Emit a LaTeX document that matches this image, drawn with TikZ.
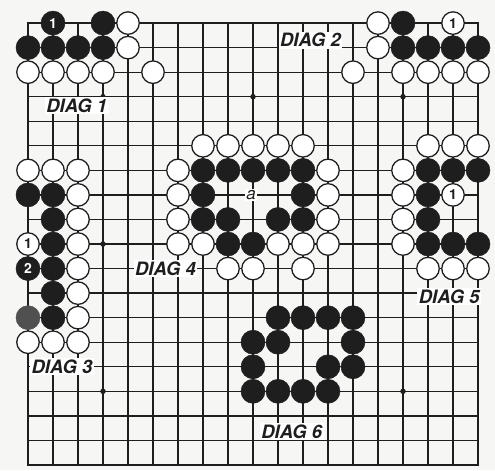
\documentclass[tikz,border=0pt]{standalone}
\usepackage{fontspec}
\setsansfont{TeX Gyre Heros}
\definecolor{paper}{HTML}{F6F6F4}
\definecolor{ink}{HTML}{1E1E1E}
\begin{document}
\begin{tikzpicture}[
  x=25bp, y=-24.55bp,
  every node/.style={font=\sffamily},
  gridline/.style={line width=1.3pt,draw=ink},
  edgeline/.style={line width=1.9pt,draw=ink},
  hoshi/.style={circle,fill=ink,inner sep=0pt,minimum size=5.5bp},
  blackstone/.style={circle,fill=ink,draw=ink,line width=0.5pt,minimum size=24bp,inner sep=0pt,
    text=white,font=\sffamily\bfseries\fontsize{14}{14}\selectfont},
  whitestone/.style={circle,fill=white,draw=ink,line width=1.3pt,minimum size=22.5bp,inner sep=0pt,
    text=ink,font=\sffamily\bfseries\fontsize{14}{14}\selectfont},
  diagtitle/.style={fill=white,inner sep=1.5pt,text=ink,
    font=\sffamily\bfseries\itshape\fontsize{18.5}{18.5}\selectfont},
  pointmark/.style={fill=white,inner sep=1pt,text=ink,font=\sffamily\itshape\fontsize{17}{17}\selectfont}
]
\useasboundingbox[fill=paper] (-1.12,-0.94) rectangle (18.68,18.21);

% board
\foreach \i in {0,...,18} {
  \draw[gridline] (\i,0) -- (\i,18);
  \draw[gridline] (0,\i) -- (18,\i);
}
\draw[edgeline] (0,0) rectangle (18,18);
\foreach \c in {3,9,15}
  \foreach \r in {3,9,15}
    \node[hoshi] (hoshi\c-\r) at (\c,\r) {};

% black stones
\foreach \c/\r in {3/0,0/1,1/1,2/1,3/1,                                   % diag 1
                   15/0,15/1,16/1,17/1,18/1,                              % diag 2
                   0/7,1/7,1/8,1/9,1/10,1/11,1/12,                        % diag 3
                   7/6,8/6,9/6,10/6,11/6,7/7,11/7,7/8,8/8,10/8,11/8,8/9,9/9, % diag 4
                   16/6,17/6,18/6,16/7,16/8,16/9,17/9,18/9,               % diag 5
                   10/12,11/12,12/12,13/12,9/13,10/13,13/13,9/14,12/14,13/14,9/15,10/15,11/15,12/15} % diag 6
  \node[blackstone] (b\c-\r) at (\c,\r) {};
\node[blackstone] (b1-0) at (1,0) {1};
\node[blackstone] (b0-10) at (0,10) {2};
\node[blackstone,fill=ink!78,draw=ink!78] (b0-12) at (0,12) {};

% white stones
\foreach \c/\r in {4/0,4/1,0/2,1/2,2/2,3/2,5/2,                           % diag 1
                   14/0,14/1,13/2,15/2,16/2,17/2,18/2,                    % diag 2
                   0/6,1/6,2/6,2/7,2/8,2/9,2/10,2/11,2/12,0/13,1/13,2/13, % diag 3
                   7/5,8/5,9/5,10/5,11/5,6/6,12/6,6/7,12/7,6/8,12/8,
                   6/9,7/9,10/9,11/9,12/9,8/10,9/10,11/10,                % diag 4
                   16/5,17/5,18/5,15/6,15/7,15/8,15/9,16/10,17/10,18/10}  % diag 5
  \node[whitestone] (w\c-\r) at (\c,\r) {};
\node[whitestone] (w17-0) at (17,0) {1};
\node[whitestone] (w0-9) at (0,9) {1};
\node[whitestone] (w17-7) at (17,7) {1};

% labels
\node[pointmark] (pta) at (8.92,7) {a};
\node[diagtitle] (diag1) at (1.95,3.36) {DIAG 1};
\node[diagtitle] (diag2) at (11.3,0.7) {DIAG 2};
\node[diagtitle] (diag3) at (1.36,14) {DIAG 3};
\node[diagtitle] (diag4) at (5.5,10) {DIAG 4};
\node[diagtitle] (diag5) at (16.85,11.15) {DIAG 5};
\node[diagtitle] (diag6) at (10.55,16.65) {DIAG 6};
\end{tikzpicture}
\end{document}
